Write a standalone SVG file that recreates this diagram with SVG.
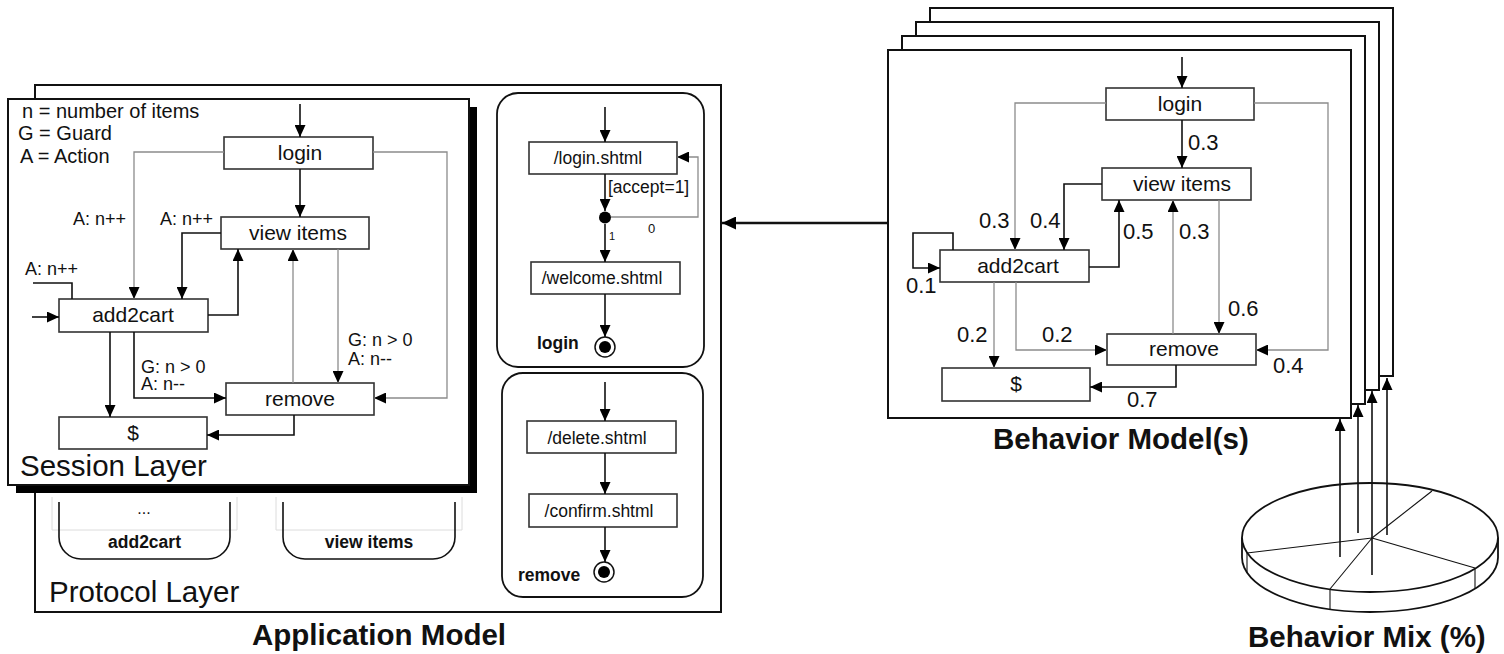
<svg xmlns="http://www.w3.org/2000/svg" width="1504" height="654" viewBox="0 0 1504 654">
  <defs>
    <style>
      .k { fill: none; stroke: #111; stroke-width: 1.6; }
      .g { fill: none; stroke: #8c8c8c; stroke-width: 1.3; }
      .thick { fill: none; stroke: #111; stroke-width: 2.6; }
      .box { fill: #fff; stroke: #333; stroke-width: 1.6; }
      .frame { fill: #fff; stroke: #111; stroke-width: 2; }
      .faint { fill: none; stroke: #dcdcdc; stroke-width: 1; }
      .t { font-family: "Liberation Sans", Arial, Helvetica, sans-serif; fill: #111; }
      .node { font-size: 21px; text-anchor: middle; }
      .lbl { font-size: 18px; }
      .leg { font-size: 20px; }
      .prob { font-size: 22px; }
      .url { font-size: 17.5px; text-anchor: middle; }
      .bsm { font-size: 17.5px; font-weight: bold; }
      .layer { font-size: 29.5px; }
      .title { font-size: 29.5px; font-weight: bold; }
    </style>
    <marker id="a" viewBox="0 0 12 11" refX="12" refY="5.5" markerWidth="12" markerHeight="11" markerUnits="userSpaceOnUse" orient="auto">
      <path d="M0,0 L12,5.5 L0,11 z" fill="#000"/>
    </marker>
    <marker id="A" viewBox="0 0 14 13" refX="14" refY="6.5" markerWidth="14" markerHeight="13" markerUnits="userSpaceOnUse" orient="auto">
      <path d="M0,0 L14,6.5 L0,13 z" fill="#000"/>
    </marker>
  </defs>

  <rect width="1504" height="654" fill="#fff"/>

  <!-- ===== Application model: protocol layer frame ===== -->
  <g id="protocol-layer">
    <rect class="frame" x="35" y="85" width="686" height="527" stroke-width="1.6"/>
    <text class="t layer" x="49" y="602">Protocol Layer</text>
  </g>

  <!-- protocol sub-models partly hidden behind the session layer -->
  <g id="proto-add2cart">
    <path class="faint" d="M52,497 V530 H237 V497"/>
    <path class="k" d="M59,502 V537 A22,22 0 0 0 81,559 H208 A22,22 0 0 0 230,537 V502"/>
    <text class="t" x="144" y="514" font-size="16" text-anchor="middle">...</text>
    <text class="t bsm" x="144.5" y="548" text-anchor="middle">add2cart</text>
  </g>
  <g id="proto-view-items">
    <path class="faint" d="M276,497 V530 H462 V497"/>
    <path class="k" d="M283,502 V537 A22,22 0 0 0 305,559 H433 A22,22 0 0 0 455,537 V502"/>
    <text class="t bsm" x="369" y="548" text-anchor="middle">view items</text>
  </g>

  <!-- protocol sub-model: login -->
  <g id="proto-login">
    <rect x="497" y="93" width="207" height="274" rx="21" fill="#fff" stroke="#111" stroke-width="1.8"/>
    <rect class="box" x="529" y="142" width="148" height="32"/>
    <text class="t url" x="598" y="164">/login.shtml</text>
    <rect class="box" x="531" y="262" width="149" height="32"/>
    <text class="t url" x="602" y="284">/welcome.shtml</text>
    <circle cx="605" cy="217.5" r="6" fill="#000"/>
    <circle cx="605" cy="347" r="10" fill="#fff" stroke="#111" stroke-width="1.5"/>
    <circle cx="605" cy="347" r="6" fill="#000"/>
    <text class="t bsm" x="537" y="349">login</text>
    <text class="t" x="608" y="193" font-size="17.5">[accept=1]</text>
    <text class="t" x="648" y="233" font-size="13">0</text>
    <text class="t" x="609" y="240" font-size="11">1</text>
  </g>

  <!-- protocol sub-model: remove -->
  <g id="proto-remove">
    <rect x="502" y="373" width="201" height="224" rx="21" fill="#fff" stroke="#111" stroke-width="1.8"/>
    <rect class="box" x="527" y="421" width="149" height="32"/>
    <text class="t url" x="597" y="444">/delete.shtml</text>
    <rect class="box" x="529" y="494" width="148" height="33"/>
    <text class="t url" x="599" y="517">/confirm.shtml</text>
    <circle cx="604" cy="572" r="10" fill="#fff" stroke="#111" stroke-width="1.5"/>
    <circle cx="604" cy="572" r="6" fill="#000"/>
    <text class="t bsm" x="518" y="581">remove</text>
  </g>

  <g id="proto-connectors">
    <path class="k" d="M605,107 V142" marker-end="url(#a)"/>
    <path class="k" d="M605,174 V211" marker-end="url(#a)"/>
    <path class="g" d="M611,217 H698 V157 H677" stroke="#555" marker-end="url(#a)"/>
    <path class="k" d="M605,224 V262" marker-end="url(#a)"/>
    <path class="k" d="M605,294 V337" marker-end="url(#a)"/>
    <path class="k" d="M605,382 V421" marker-end="url(#a)"/>
    <path class="k" d="M605,453 V494" marker-end="url(#a)"/>
    <path class="k" d="M605,527 V562" marker-end="url(#a)"/>
  </g>

  <!-- ===== Session layer (with drop shadow) ===== -->
  <g id="session-layer">
    <rect x="16" y="107" width="461" height="386" fill="#000"/>
    <rect class="frame" x="8" y="99" width="461" height="386"/>
    <text class="t leg" x="22" y="118">n = number of items</text>
    <text class="t leg" x="18" y="140">G = Guard</text>
    <text class="t leg" x="20" y="163">A = Action</text>
    <text class="t layer" x="20" y="476">Session Layer</text>
  </g>

  <g id="s-login">
    <rect class="box" x="224" y="137" width="149" height="32"/>
    <text class="t node" x="300" y="160">login</text>
  </g>
  <g id="s-view-items">
    <rect class="box" x="221" y="217" width="148" height="32"/>
    <text class="t node" x="298" y="240">view items</text>
  </g>
  <g id="s-add2cart">
    <rect class="box" x="59" y="299" width="149" height="33"/>
    <text class="t node" x="133" y="322">add2cart</text>
  </g>
  <g id="s-remove">
    <rect class="box" x="226" y="383" width="148" height="32"/>
    <text class="t node" x="300" y="406">remove</text>
  </g>
  <g id="s-dollar">
    <rect class="box" x="59" y="417" width="148" height="32"/>
    <text class="t node" x="133" y="440">$</text>
  </g>

  <g id="session-connectors">
    <path class="k" d="M300,104 V137" marker-end="url(#a)"/>
    <path class="k" d="M300,169 V217" marker-end="url(#a)"/>
    <path class="g" d="M224,152 H134 V299" marker-end="url(#a)"/>
    <path class="g" d="M373,152 H447 V398 H374" marker-end="url(#a)"/>
    <path class="k" d="M221,233 H182 V299" marker-end="url(#a)"/>
    <path class="k" d="M208,315 H238 V249" marker-end="url(#a)"/>
    <path class="g" d="M293,383 V249" marker-end="url(#a)"/>
    <path class="g" d="M338,249 V383" marker-end="url(#a)"/>
    <path class="k" d="M33,283 H72 V299"/>
    <path class="k" d="M32,317 H59" stroke-width="2" marker-end="url(#a)"/>
    <path class="k" d="M110,332 V417" marker-end="url(#a)"/>
    <path class="k" d="M134,332 V398 H226" stroke="#444" marker-end="url(#a)"/>
    <path class="k" d="M294,415 V435 H207" marker-end="url(#a)"/>
    <text class="t lbl" x="73" y="225">A: n++</text>
    <text class="t lbl" x="160" y="225">A: n++</text>
    <text class="t lbl" x="25" y="275">A: n++</text>
    <text class="t lbl" x="348" y="346">G: n &gt; 0</text>
    <text class="t lbl" x="348" y="365">A: n--</text>
    <text class="t lbl" x="141" y="373">G: n &gt; 0</text>
    <text class="t lbl" x="141" y="390">A: n--</text>
  </g>

  <text class="t title" x="252" y="645">Application Model</text>

  <!-- ===== Behavior models (stack of sheets) ===== -->
  <g id="behavior-stack">
    <rect class="frame" x="930" y="8" width="463" height="368" stroke-width="2.4"/>
    <rect class="frame" x="916" y="22" width="463" height="368" stroke-width="2.4"/>
    <rect class="frame" x="902" y="36" width="463" height="368" stroke-width="2.4"/>
    <rect class="frame" x="888" y="50" width="463" height="368" stroke-width="2.4"/>
  </g>

  <g id="b-login">
    <rect class="box" x="1106" y="88" width="148" height="32"/>
    <text class="t node" x="1180" y="111" font-size="22">login</text>
  </g>
  <g id="b-view-items">
    <rect class="box" x="1102" y="168" width="149" height="32"/>
    <text class="t node" x="1182" y="191" font-size="22">view items</text>
  </g>
  <g id="b-add2cart">
    <rect class="box" x="940" y="250" width="149" height="32"/>
    <text class="t node" x="1018" y="273" font-size="22">add2cart</text>
  </g>
  <g id="b-remove">
    <rect class="box" x="1107" y="334" width="149" height="31"/>
    <text class="t node" x="1184" y="356" font-size="22">remove</text>
  </g>
  <g id="b-dollar">
    <rect class="box" x="942" y="368" width="148" height="33"/>
    <text class="t node" x="1016" y="391" font-size="22">$</text>
  </g>

  <g id="behavior-connectors">
    <path class="k" d="M1182,57 V88" marker-end="url(#a)"/>
    <path class="k" d="M1182,120 V168" marker-end="url(#a)"/>
    <path class="g" d="M1106,103 H1015 V250" marker-end="url(#a)"/>
    <path class="g" d="M1254,103 H1328 V350 H1256" marker-end="url(#a)"/>
    <path class="k" d="M1102,184 H1064 V250" marker-end="url(#a)"/>
    <path class="k" d="M1089,267 H1119 V200" marker-end="url(#a)"/>
    <path class="g" d="M1173,334 V200" marker-end="url(#a)"/>
    <path class="g" d="M1219,200 V334" marker-end="url(#a)"/>
    <path class="k" d="M953,250 V233 H913 V268 H940" marker-end="url(#a)"/>
    <path class="g" d="M994,282 V368" stroke="#666" marker-end="url(#a)"/>
    <path class="g" d="M1016,282 V350 H1107" marker-end="url(#a)"/>
    <path class="k" d="M1176,365 V387 H1090" marker-end="url(#a)"/>
    <text class="t prob" x="1188" y="150">0.3</text>
    <text class="t prob" x="979" y="228">0.3</text>
    <text class="t prob" x="1030" y="228">0.4</text>
    <text class="t prob" x="1123" y="239">0.5</text>
    <text class="t prob" x="1179" y="239">0.3</text>
    <text class="t prob" x="1228" y="316">0.6</text>
    <text class="t prob" x="906" y="293">0.1</text>
    <text class="t prob" x="957" y="342">0.2</text>
    <text class="t prob" x="1042" y="342">0.2</text>
    <text class="t prob" x="1127" y="407">0.7</text>
    <text class="t prob" x="1273" y="373">0.4</text>
  </g>

  <text class="t title" x="993" y="449" font-size="30">Behavior Model(s)</text>

  <!-- behavior model feeds the application model -->
  <g id="main-connector">
    <path class="thick" d="M888,223 H722" marker-end="url(#A)"/>
  </g>

  <!-- ===== Behavior mix pie ===== -->
  <g id="behavior-mix">
    <path d="M1242,537.5 V557.5 A128,54.5 0 0 0 1498,557.5 V537.5" fill="#fff" stroke="#111" stroke-width="1.8"/>
    <ellipse cx="1370" cy="537.5" rx="128" ry="54.5" fill="#fff" stroke="#111" stroke-width="1.8"/>
    <g stroke="#111" stroke-width="1.1" fill="none">
      <path d="M1372,538 L1432,491"/>
      <path d="M1372,538 L1247,553"/>
      <path d="M1372,538 L1475,568"/>
      <path d="M1372,538 L1330,589"/>
      <path d="M1247,553 V573"/>
      <path d="M1330,589 V609"/>
      <path d="M1475,568 V588"/>
    </g>
    <text class="t title" x="1248" y="647">Behavior Mix (%)</text>
  </g>

  <g id="mix-connectors">
    <path class="k" d="M1340,557 V419" stroke="#333" stroke-width="1.4" marker-end="url(#a)"/>
    <path class="k" d="M1358,533 V405" stroke="#333" stroke-width="1.4" marker-end="url(#a)"/>
    <path class="k" d="M1372,575 V391" stroke="#333" stroke-width="1.4" marker-end="url(#a)"/>
    <path class="k" d="M1387,535 V378" stroke="#333" stroke-width="1.4" marker-end="url(#a)"/>
  </g>
</svg>
